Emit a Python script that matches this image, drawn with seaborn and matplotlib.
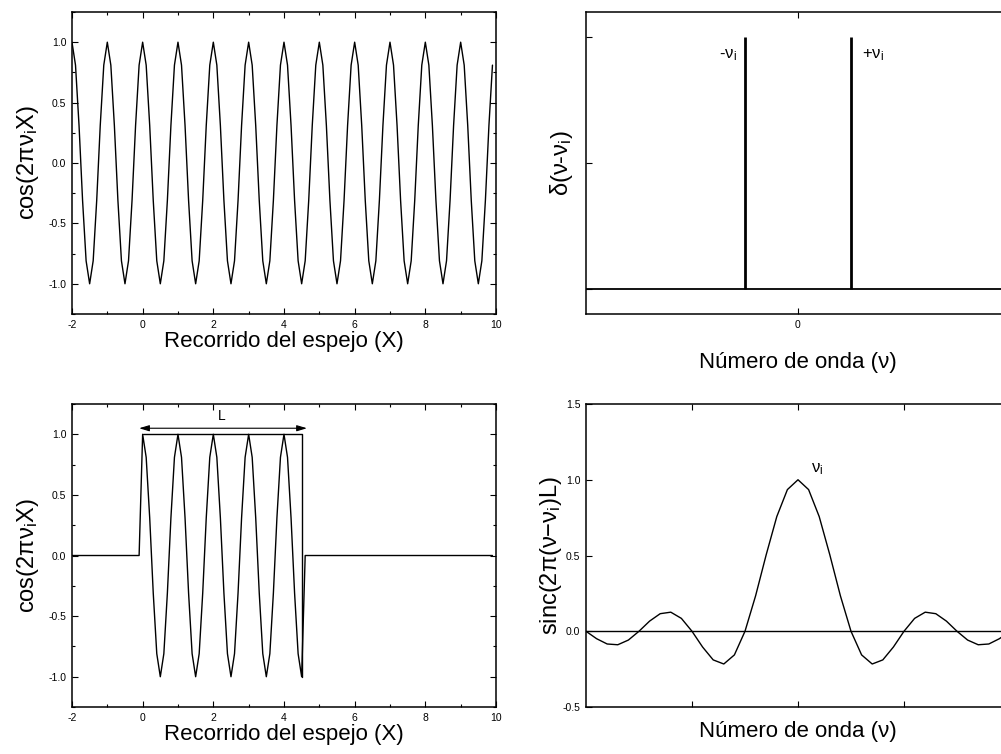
import numpy as np
import pandas as pd
import matplotlib
matplotlib.use("Agg")
import matplotlib.pyplot as plt
from matplotlib.ticker import MultipleLocator, NullFormatter
import seaborn as sns

# --- data ------------------------------------------------------------------
# one period of the sampled cosine (step 0.1 in X)
cos_cycle = [1.0, 0.81, 0.31, -0.31, -0.81, -1.0, -0.81, -0.31, 0.31, 0.81]
mirror_x = np.round(np.arange(-2.0, 10.0, 0.1), 1)          # -2.0 ... 9.9
mirror_signal = np.tile(cos_cycle, 12)

# truncated interferogram: zero before 0 and after 4.5
trunc_signal = np.concatenate([np.zeros(20), np.tile(cos_cycle, 5)[:46], np.zeros(54)])
window_x = [0.0, 4.5, 4.5]
window_y = [1.0, 1.0, -1.0]
L_arrow = (-0.1, 4.65)

# spectrum of a single line
nu_axis = [-1.0, 1.0]
delta_nu = [-0.25, 0.25]
delta_height = [1.0, 1.0]

# sinc line shape
sinc_x = np.round(np.arange(-2.0, 2.01, 0.1), 1)
sinc_vals = [0.0, -0.049, -0.084, -0.089, -0.058, 0.0, 0.067, 0.116, 0.126, 0.085,
             0.0, -0.104, -0.189, -0.216, -0.156, 0.0, 0.234, 0.505, 0.757, 0.935,
             1.0,
             0.935, 0.757, 0.505, 0.234, 0.0, -0.156, -0.216, -0.189, -0.104, 0.0,
             0.085, 0.126, 0.116, 0.067, 0.0, -0.058, -0.089, -0.084, -0.049, 0.0]

# --- style -----------------------------------------------------------------
sns.set_theme(style="ticks")
plt.rcParams["font.family"] = ["Liberation Sans", "DejaVu Sans"]
plt.rcParams.update({
    "mathtext.default": "regular",
    "axes.unicode_minus": False,
    "text.color": "black",
    "axes.labelcolor": "black",
    "xtick.color": "black",
    "ytick.color": "black",
    "axes.linewidth": 1.1,
    "axes.edgecolor": "black",
    "xtick.direction": "in",
    "ytick.direction": "in",
    "xtick.top": True,
    "ytick.right": True,
    "xtick.major.size": 4,
    "ytick.major.size": 4,
    "xtick.minor.size": 2.5,
    "ytick.minor.size": 2.5,
    "xtick.labelsize": 7.5,
    "ytick.labelsize": 7.5,
})

LABEL = 17


def style_axes(ax):
    ax.tick_params(which="both", width=0.8, pad=4)
    for sp in ax.spines.values():
        sp.set_color("black")


fig = plt.figure(figsize=(10.01, 7.54), dpi=100)
ax1 = fig.add_axes([0.0719, 0.5836, 0.4236, 0.4005])
ax2 = fig.add_axes([0.5854, 0.5836, 0.4236, 0.4005])
ax3 = fig.add_axes([0.0719, 0.0623, 0.4236, 0.4019])
ax4 = fig.add_axes([0.5854, 0.0623, 0.4236, 0.4019])

# top-left: infinite cosine
sns.lineplot(x=mirror_x, y=mirror_signal, ax=ax1, color="black", lw=1.0,
             estimator=None, sort=False)
ax1.set_xlim(-2, 10)
ax1.set_ylim(-1.25, 1.25)
ax1.xaxis.set_major_locator(MultipleLocator(2))
ax1.xaxis.set_minor_locator(MultipleLocator(1))
ax1.yaxis.set_major_locator(MultipleLocator(0.5))
ax1.yaxis.set_minor_locator(MultipleLocator(0.25))
ax1.set_xlabel("Recorrido del espejo (X)", fontsize=16, labelpad=1)
ax1.set_ylabel("cos(2πν$_{i}$X)", fontsize=LABEL, labelpad=5)
style_axes(ax1)

# top-right: delta functions
sns.lineplot(x=nu_axis, y=[0, 0], ax=ax2, color="black", lw=1.3, estimator=None)
ax2.vlines(delta_nu, 0, delta_height, color="black", lw=2.0)
ax2.set_xlim(-1, 1)
ax2.set_ylim(-0.1, 1.1)
ax2.set_xticks([0])
ax2.set_xticklabels(["0"])
ax2.set_yticks([0, 0.5, 1.0])
ax2.yaxis.set_major_formatter(NullFormatter())
ax2.text(-0.29, 0.93, "-ν$_{i}$", ha="right", va="center", fontsize=12)
ax2.text(0.30, 0.93, "+ν$_{i}$", ha="left", va="center", fontsize=12)
ax2.set_xlabel("Número de onda (ν)", fontsize=16, labelpad=16)
ax2.set_ylabel("δ(ν-ν$_{i}$)", fontsize=LABEL, labelpad=4)
style_axes(ax2)

# bottom-left: truncated cosine
sns.lineplot(x=mirror_x, y=trunc_signal, ax=ax3, color="black", lw=1.0,
             estimator=None, sort=False)
sns.lineplot(x=window_x, y=window_y, ax=ax3, color="black", lw=1.0,
             estimator=None, sort=False)
ax3.annotate("", xy=(L_arrow[1], 1.05), xytext=(L_arrow[0], 1.05),
             arrowprops=dict(arrowstyle="<|-|>,head_length=0.5,head_width=0.15",
                             color="black", lw=0.8, shrinkA=0, shrinkB=0))
ax3.text(2.25, 1.15, "L", ha="center", va="center", fontsize=10)
ax3.set_xlim(-2, 10)
ax3.set_ylim(-1.25, 1.25)
ax3.xaxis.set_major_locator(MultipleLocator(2))
ax3.xaxis.set_minor_locator(MultipleLocator(1))
ax3.yaxis.set_major_locator(MultipleLocator(0.5))
ax3.yaxis.set_minor_locator(MultipleLocator(0.25))
ax3.set_xlabel("Recorrido del espejo (X)", fontsize=16, labelpad=1)
ax3.set_ylabel("cos(2πν$_{i}$X)", fontsize=LABEL, labelpad=5)
style_axes(ax3)

# bottom-right: sinc
sns.lineplot(x=[-2, 2], y=[0, 0], ax=ax4, color="black", lw=1.0, estimator=None)
sns.lineplot(x=sinc_x, y=sinc_vals, ax=ax4, color="black", lw=1.0,
             estimator=None, sort=False)
ax4.text(0.12, 1.07, "ν$_{i}$", ha="left", va="center", fontsize=12)
ax4.set_xlim(-2, 2)
ax4.set_ylim(-0.5, 1.5)
ax4.set_xticks([-1, 0, 1])
ax4.xaxis.set_major_formatter(NullFormatter())
ax4.yaxis.set_major_locator(MultipleLocator(0.5))
ax4.set_xlabel("Número de onda (ν)", fontsize=16, labelpad=6)
ax4.set_ylabel("sinc(2π(ν−ν$_{i}$)L)", fontsize=LABEL, labelpad=-1)
style_axes(ax4)

fig.savefig("out.png", dpi=100)
